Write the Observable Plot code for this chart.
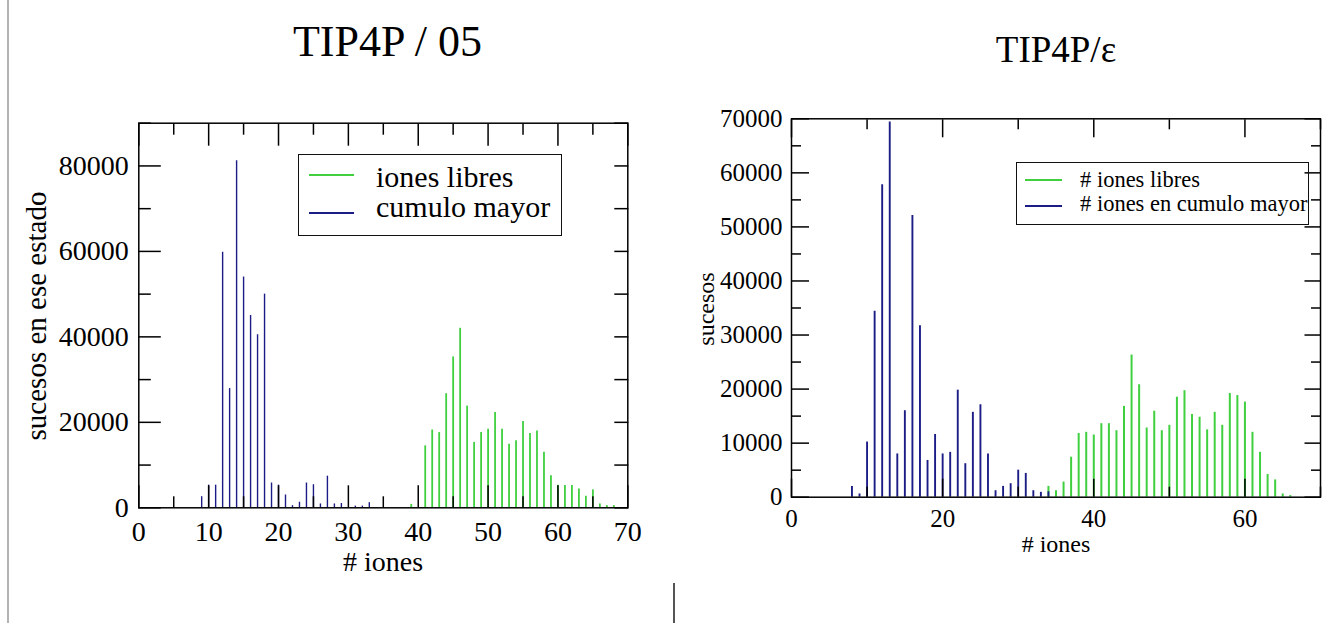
<!DOCTYPE html>
<html>
<head>
<meta charset="utf-8">
<script src="https://cdn.jsdelivr.net/npm/d3@7"></script>
<script src="https://cdn.jsdelivr.net/npm/@observablehq/plot@0.6"></script>
<style>
  html, body { margin: 0; padding: 0; background: #fff; }
  #page { position: relative; width: 1335px; height: 623px; overflow: hidden; font-family: "Liberation Serif", "DejaVu Serif", "Times New Roman", serif; color: #000; }
  .txt { position: absolute; white-space: nowrap; line-height: 1; font-family: "Liberation Serif", "DejaVu Serif", "Times New Roman", serif; }
  .chart { position: absolute; top: 0; }
  .chart text { font-family: "Liberation Serif", "DejaVu Serif", "Times New Roman", serif; }
  .legend { position: absolute; box-sizing: border-box; border: 1.5px solid #111; background: transparent; }
  .lline { position: absolute; height: 2px; }
  .vline { position: absolute; }
</style>
</head>
<body>
<div id="page"></div>
<script>
// ---------- texts ----------
const title05 = "TIP4P / 05";
const titleEps = "TIP4P/\u03b5";
const xLabel = "# iones";
const yLabel05 = "sucesos en ese estado";
const yLabelEps = "sucesos";
const legend05 = ["iones libres", "cumulo mayor"];
const legendEps = ["# iones libres", "# iones en cumulo mayor"];

// ---------- TIP4P/05 data ----------
const mayor05Ions   = [9, 10, 11, 12, 13, 14, 15, 16, 17, 18, 19, 20, 21, 22, 23, 24, 25, 26, 27, 28, 29, 31, 32, 33];
const mayor05Counts = [2600, 5300, 5300, 59800, 27900, 81200, 54000, 45000, 40500, 50000, 5800, 5300, 3000, 500, 1300, 5800, 5400, 900, 7400, 900, 1000, 400, 400, 1200];

const libres05Ions   = [39, 41, 42, 43, 44, 45, 46, 47, 48, 49, 50, 51, 52, 53, 54, 55, 56, 57, 58, 59, 60, 61, 62, 63, 64, 65, 66, 67, 68];
const libres05Counts = [800, 14500, 18200, 17600, 26700, 35300, 42000, 23800, 15300, 17600, 18400, 22300, 18400, 14900, 15700, 20200, 17400, 18000, 13000, 7500, 5300, 5200, 5200, 4400, 2700, 4200, 900, 500, 500];

// ---------- TIP4P/eps data ----------
const mayorEpsIons   = [8, 9, 10, 11, 12, 13, 14, 15, 16, 17, 18, 19, 20, 21, 22, 23, 24, 25, 26, 27, 28, 29, 30, 31, 32, 33, 34];
const mayorEpsCounts = [2000, 600, 10200, 34400, 57800, 69400, 8000, 16000, 52100, 31700, 6800, 11600, 8000, 8300, 19800, 6200, 15700, 17100, 8000, 1200, 2000, 2500, 5000, 4400, 1200, 900, 1000];

const libresEpsIons   = [34, 35, 36, 37, 38, 39, 40, 41, 42, 43, 44, 45, 46, 47, 48, 49, 50, 51, 52, 53, 54, 55, 56, 57, 58, 59, 60, 61, 62, 63, 64, 65, 66];
const libresEpsCounts = [2000, 1200, 2800, 7400, 11800, 12000, 11500, 13600, 13600, 12300, 16800, 26300, 20800, 12800, 15900, 12300, 13300, 18500, 19700, 15300, 14800, 12450, 15700, 13300, 19200, 18800, 17600, 12000, 8300, 4200, 3200, 600, 300];

// ---------- axis ticks ----------
const x05Major = [0, 10, 20, 30, 40, 50, 60, 70];
const x05Minor = [5, 15, 25, 35, 45, 55, 65];
const y05Major = [0, 20000, 40000, 60000, 80000];
const y05Minor = [10000, 30000, 50000, 70000, 90000];

const xEpsMajor = [0, 20, 40, 60];
const xEpsMinor = [10, 30, 50, 70];
const yEpsMajor = [0, 10000, 20000, 30000, 40000, 50000, 60000, 70000];
const yEpsMinor = [5000, 15000, 25000, 35000, 45000, 55000, 65000];

const GREEN = "#3fcf3f";
const BLUE = "#1c1c86";
const SERIF = "'Liberation Serif', 'DejaVu Serif', 'Times New Roman', serif";

const zip = (xs, ys) => xs.map((n, i) => ({n, v: ys[i]}));
const blank = () => "";
const fmt = d => String(d);

const page = document.getElementById("page");

function tickMarks(xMaj, xMin, yMaj, yMin, L) {
  return [
    Plot.axisX(xMaj, {anchor: "bottom", tickSize: -L.xMaj, tickFormat: blank, label: null, strokeWidth: 1.5}),
    Plot.axisX(xMin, {anchor: "bottom", tickSize: -L.xMin, tickFormat: blank, label: null, strokeWidth: 1.5}),
    Plot.axisX(xMaj, {anchor: "top", tickSize: -L.xMaj, tickFormat: blank, label: null, strokeWidth: 1.5}),
    Plot.axisX(xMin, {anchor: "top", tickSize: -L.xMin, tickFormat: blank, label: null, strokeWidth: 1.5}),
    Plot.axisY(yMaj, {anchor: "left", tickSize: -L.yMaj, tickFormat: blank, label: null, strokeWidth: 1.5}),
    Plot.axisY(yMin, {anchor: "left", tickSize: -L.yMin, tickFormat: blank, label: null, strokeWidth: 1.5}),
    Plot.axisY(yMaj, {anchor: "right", tickSize: -L.rMaj, tickFormat: blank, label: null, strokeWidth: 1.5}),
    Plot.axisY(yMin, {anchor: "right", tickSize: -L.rMin, tickFormat: blank, label: null, strokeWidth: 1.5})
  ];
}

// ---------- left chart ----------
const left = Plot.plot({
  width: 667, height: 623,
  marginLeft: 138.3, marginRight: 667 - 627.3, marginTop: 122.7, marginBottom: 623 - 507.3,
  x: {domain: [0, 70]},
  y: {domain: [0, 90000]},
  style: {fontFamily: SERIF, fontSize: "28px", color: "#000", background: "transparent", overflow: "visible"},
  marks: [
    Plot.ruleX(zip(libres05Ions, libres05Counts), {x: "n", y1: 0, y2: "v", stroke: GREEN, strokeWidth: 1.8}),
    Plot.ruleX(zip(mayor05Ions, mayor05Counts), {x: "n", y1: 0, y2: "v", stroke: BLUE, strokeWidth: 1.4}),
    ...tickMarks(x05Major, x05Minor, y05Major, y05Minor, {xMaj: 22, xMin: 11, yMaj: 22.5, yMin: 12.5, rMaj: 14, rMin: 14}),
    Plot.axisX(x05Major, {anchor: "bottom", tickSize: 0, tickPadding: 13, tickFormat: fmt, label: null}),
    Plot.axisY(y05Major, {anchor: "left", tickSize: 0, tickPadding: 10, tickFormat: fmt, label: null}),
    Plot.frame({stroke: "#000", strokeWidth: 1.5})
  ]
});
left.classList.add("chart");
left.style.left = "0px";
page.appendChild(left);

// ---------- right chart ----------
const right = Plot.plot({
  width: 668, height: 623,
  marginLeft: 791 - 667, marginRight: 1335 - 1320, marginTop: 118.3, marginBottom: 623 - 496.7,
  x: {domain: [0, 70]},
  y: {domain: [0, 70000]},
  style: {fontFamily: SERIF, fontSize: "25px", color: "#000", background: "transparent", overflow: "visible"},
  marks: [
    Plot.ruleX(zip(libresEpsIons, libresEpsCounts), {x: "n", y1: 0, y2: "v", stroke: GREEN, strokeWidth: 2}),
    Plot.ruleX(zip(mayorEpsIons, mayorEpsCounts), {x: "n", y1: 0, y2: "v", stroke: BLUE, strokeWidth: 1.9}),
    ...tickMarks(xEpsMajor, xEpsMinor, yEpsMajor, yEpsMinor, {xMaj: 18, xMin: 10, yMaj: 18, yMin: 10, rMaj: 16.5, rMin: 10}),
    Plot.axisX(xEpsMajor, {anchor: "bottom", tickSize: 0, tickPadding: 12, tickFormat: fmt, label: null}),
    Plot.axisY(yEpsMajor, {anchor: "left", tickSize: 0, tickPadding: 9, tickFormat: fmt, label: null}),
    Plot.frame({stroke: "#000", strokeWidth: 1.5})
  ]
});
right.classList.add("chart");
right.style.left = "667px";
page.appendChild(right);

// ---------- html text helpers ----------
function addText(txt, x, baseline, size, anchor) {
  const d = document.createElement("div");
  d.className = "txt";
  d.textContent = txt;
  d.style.fontSize = size + "px";
  d.style.left = x + "px";
  d.style.top = (baseline - 0.8375 * size) + "px";
  if (anchor === "middle") d.style.transform = "translateX(-50%)";
  page.appendChild(d);
  return d;
}
function addRotated(txt, cx, cy, size) {
  const d = document.createElement("div");
  d.className = "txt";
  d.textContent = txt;
  d.style.fontSize = size + "px";
  d.style.left = cx + "px";
  d.style.top = cy + "px";
  d.style.transform = "translate(-50%, -50%) rotate(-90deg)";
  page.appendChild(d);
}
function addLegend(box, rows) {
  const b = document.createElement("div");
  b.className = "legend";
  b.style.left = box.x + "px"; b.style.top = box.y + "px";
  b.style.width = box.w + "px"; b.style.height = box.h + "px";
  page.appendChild(b);
  rows.forEach(r => {
    const l = document.createElement("div");
    l.className = "lline";
    l.style.left = r.x1 + "px"; l.style.width = (r.x2 - r.x1) + "px";
    l.style.top = (r.ly - 1) + "px"; l.style.background = r.color;
    page.appendChild(l);
    addText(r.label, r.tx, r.baseline, r.size, "start");
  });
}

// titles
addText(title05, 387.5, 56.7, 44, "middle");
addText(titleEps, 1056, 62.3, 37, "middle");
// axis labels
addText(xLabel, 383, 571.5, 28, "middle");
addRotated(yLabel05, 35.5, 316, 29);
addText(xLabel, 1056, 551.7, 24, "middle");
addRotated(yLabelEps, 705.5, 308.5, 24);

// legends
addLegend({x: 298.4, y: 154.4, w: 263.5, h: 82}, [
  {x1: 308.6, x2: 354, ly: 175.4, color: GREEN, label: legend05[0], tx: 376, baseline: 187.2, size: 30},
  {x1: 308.6, x2: 354, ly: 212.6, color: BLUE, label: legend05[1], tx: 376, baseline: 217.6, size: 30}
]);
addLegend({x: 1016, y: 161.7, w: 293.3, h: 63.5}, [
  {x1: 1025, x2: 1061.7, ly: 180, color: GREEN, label: legendEps[0], tx: 1080, baseline: 188.3, size: 22.5},
  {x1: 1025, x2: 1061.7, ly: 206, color: BLUE, label: legendEps[1], tx: 1080, baseline: 211.7, size: 22.5}
]);

// page separator lines
const v1 = document.createElement("div");
v1.className = "vline";
Object.assign(v1.style, {left: "7px", top: "0px", width: "2px", height: "623px", background: "#b3b3b3"});
page.appendChild(v1);
const v2 = document.createElement("div");
v2.className = "vline";
Object.assign(v2.style, {left: "672.5px", top: "583px", width: "2px", height: "40px", background: "#555"});
page.appendChild(v2);
</script>
</body>
</html>
